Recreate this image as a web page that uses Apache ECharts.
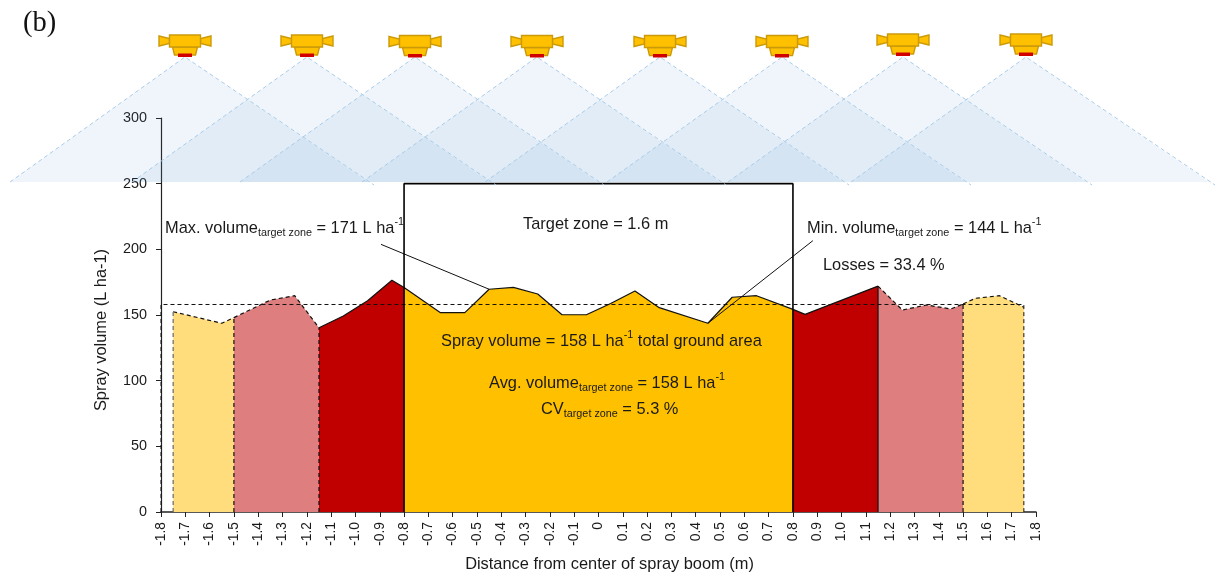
<!DOCTYPE html>
<html><head><meta charset="utf-8">
<style>html,body{margin:0;padding:0;background:#fff}#c{width:1215px;height:577px}</style>
<script src="https://cdn.jsdelivr.net/npm/echarts@6/dist/echarts.min.js"></script>
</head><body><div id="c"></div>
<script>
// Data
const outerLeft   = [[-1.75,152.5],[-1.55,143.7],[-1.5,148]];
const middleLeft  = [[-1.5,148],[-1.35,161.4],[-1.25,164.7],[-1.15,140.3]];
const innerLeft   = [[-1.15,140.3],[-1.05,149.2],[-0.95,160.9],[-0.85,176.4],[-0.8,171]];
const targetZone  = [[-0.8,171],[-0.65,151.8],[-0.55,151.8],[-0.45,169.6],[-0.35,171],[-0.25,166],[-0.15,150.2],[-0.05,150.2],[0.05,158.8],[0.15,168.3],[0.25,155.6],[0.45,143.7],[0.55,163.5],[0.65,164.7],[0.8,154.3]];
const innerRight  = [[0.8,154.3],[0.85,150.5],[1.15,172]];
const middleRight = [[1.15,172],[1.25,153.8],[1.35,157.6],[1.45,154.6],[1.5,158.4]];
const outerRight  = [[1.5,158.4],[1.55,162.7],[1.65,164.7],[1.75,155.9]];
const meanLine    = [[-1.8,0],[-1.8,158],[1.75,158],[1.75,0]];
const targetBox   = [[-0.8,0],[-0.8,250],[0.8,250],[0.8,0]];
const maxLeader   = [[-0.895,203.8],[-0.45,169.6]];
const minLeader   = [[0.45,143.7],[0.882,206.6]];
const nozzleX     = [185,307,415,537,660,782,903,1026];
const nozzleDy    = [0,0,0.5,0.5,0.5,0.5,-1,-1];

const FONT = '"Liberation Sans", Arial, sans-serif';
const TXT = '#1a1a1a';
const FS = 16.4;

function zone(data, color, dashed){
  return {type:'line', data, symbol:'none', silent:true, z:2,
    lineStyle:{color:'#111', width:1.2, type: dashed?[4,3]:'solid'},
    areaStyle:{color, opacity:1}};
}
function line(data, opt){
  return Object.assign({type:'line', data, symbol:'none', silent:true, z:4,
    lineStyle:{color:'#111', width:1}}, opt);
}
function edge(p, dashed, color){
  return line([[p[0],0],p], {z:3, lineStyle:{color:color||'#111', width:1.2, type:dashed?[4,3]:'solid'}});
}
const rich = {
  a:{fontSize:FS, fontFamily:FONT, color:TXT, lineHeight:22, verticalAlign:'middle'},
  s:{fontSize:10.8, fontFamily:FONT, color:TXT, lineHeight:16, verticalAlign:'bottom'},
  u:{fontSize:10.8, fontFamily:FONT, color:TXT, lineHeight:16, verticalAlign:'top'}
};
function label(x, y, text){
  return {type:'text', x, y, z:20, style:{text, rich, font:FS+'px '+FONT, fill:TXT, align:'left', verticalAlign:'middle'}};
}
const graphics = [];
nozzleX.forEach((cx,i)=>{
  const ay = 57;
  graphics.push({type:'polygon', z:6, silent:true, shape:{points:[[cx,ay],[cx-175,182],[cx+183,182]]},
    style:{fill:'rgba(85,150,200,0.095)'}});
  graphics.push({type:'polyline', z:7, silent:true, shape:{points:[[cx-175,182],[cx,ay],[cx+189,185]]},
    style:{fill:'none', stroke:'#a9cbe9', lineWidth:1, lineDash:[4,3]}});
});
nozzleX.forEach((cx,i)=>{
  const d = nozzleDy[i];
  const st = {fill:'#ffc000', stroke:'#cc9a08', lineWidth:1.4};
  const poly = pts => ({type:'polygon', z:9, silent:true, shape:{points:pts.map(p=>[cx+p[0], p[1]+d])}, style:st});
  graphics.push(poly([[-26,36],[-15.5,38.5],[-15.5,43.5],[-26,46]]));
  graphics.push(poly([[26,36],[15.5,38.5],[15.5,43.5],[26,46]]));
  graphics.push(poly([[-12.5,47],[12.5,47],[10.5,55],[-10.5,55]]));
  graphics.push(poly([[-15.5,35],[15.5,35],[15.5,47],[-15.5,47]]));
  graphics.push({type:'rect', z:10, silent:true, shape:{x:cx-7,y:53.5+d,width:14,height:3.5}, style:{fill:'#d00000'}});
});
graphics.push({type:'text', x:23, y:24, z:20, style:{text:'(b)', font:'28.5px "Liberation Serif", serif', fill:'#111', verticalAlign:'middle'}});
graphics.push(label(165,228,'{a|Max. volume}{s|target zone}{a| = 171 L ha}{u|-1}'));
graphics.push(label(523,224,'{a|Target zone = 1.6 m}'));
graphics.push(label(807,228,'{a|Min. volume}{s|target zone}{a| = 144 L ha}{u|-1}'));
graphics.push(label(823,265,'{a|Losses = 33.4 %}'));
graphics.push(label(441,341,'{a|Spray volume = 158 L ha}{u|-1}{a| total ground area}'));
graphics.push(label(489,383,'{a|Avg. volume}{s|target zone}{a| = 158 L ha}{u|-1}'));
graphics.push(label(541,409,'{a|CV}{s|target zone}{a| = 5.3 %}'));

const chart = echarts.init(document.getElementById('c'), null, {renderer:'canvas'});
chart.setOption({
  animation:false,
  grid:{left:161, width:875, top:118, height:394, containLabel:false},
  xAxis:{type:'value', min:-1.8, max:1.8, interval:0.1,
    name:'Distance from center of spray boom (m)', nameLocation:'middle', nameGap:44,
    nameTextStyle:{fontFamily:FONT, fontSize:FS, color:TXT, padding:[0,0,0,22]},
    axisLine:{onZero:false, lineStyle:{color:'#222', width:1.5}},
    axisTick:{length:5, lineStyle:{color:'#222'}},
    axisLabel:{rotate:90, fontFamily:FONT, fontSize:13.8, color:TXT, margin:10, hideOverlap:false,
      formatter:v=>Math.abs(v)<1e-6?'0':v.toFixed(1)},
    splitLine:{show:false}},
  yAxis:{type:'value', min:0, max:300, interval:50,
    name:'Spray volume (L ha-1)', nameLocation:'middle', nameGap:52,
    nameTextStyle:{fontFamily:FONT, fontSize:FS, color:TXT, padding:[0,30,0,0]},
    axisLine:{show:true, onZero:false, lineStyle:{color:'#222', width:1.2}},
    axisTick:{show:true, length:5, lineStyle:{color:'#222'}},
    axisLabel:{fontFamily:FONT, fontSize:14.4, color:TXT, margin:14},
    splitLine:{show:false}},
  series:[
    zone(outerLeft,'#ffdc7c',true),
    zone(middleLeft,'#de7e7e',true),
    zone(innerLeft,'#c00000',false),
    zone(targetZone,'#ffc000',false),
    zone(innerRight,'#c00000',false),
    zone(middleRight,'#de7e7e',true),
    zone(outerRight,'#ffdc7c',true),
    edge(outerLeft[0],true,'#666'),
    edge(middleLeft[0],true),
    edge(innerLeft[0],true),
    edge(middleRight[0],false),
    edge(outerRight[0],true),
    line(meanLine,{lineStyle:{color:'#111',width:1,type:[4,3]}}),
    line(targetBox,{z:5,lineStyle:{color:'#000',width:1.6}}),
    line(maxLeader),
    line(minLeader)
  ],
  graphic:graphics
});
</script></body></html>
